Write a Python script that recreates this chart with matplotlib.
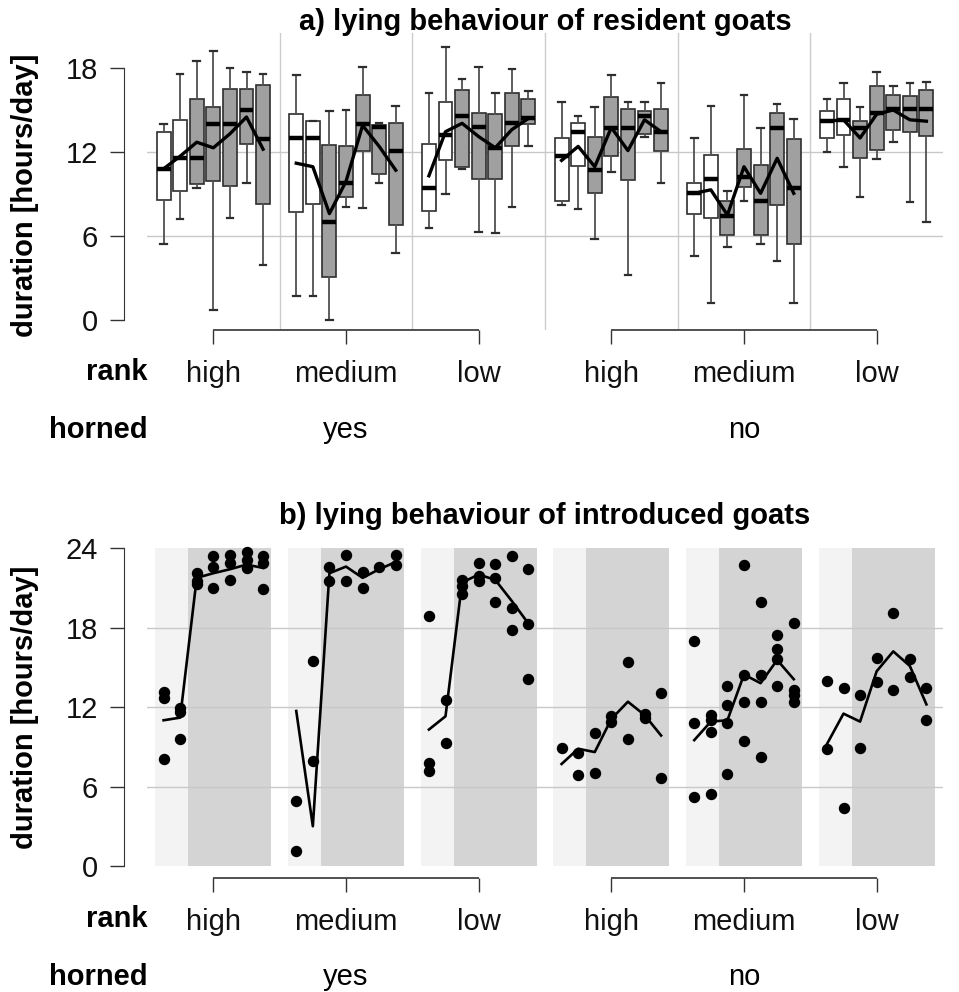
import matplotlib
matplotlib.use('Agg')
import matplotlib.pyplot as plt

plt.rcParams['font.family'] = ['Liberation Sans', 'DejaVu Sans']

# groups: horned x rank, 7 days each
ranks = ['high', 'medium', 'low', 'high', 'medium', 'low']
horned = ['yes', 'no']
n_days = 7
n_before = 2  # days before introduction (white boxes / light shading)

# a) resident goats: box statistics per group, days 1..7
res_lo = [[5.45, 7.2, 9.4, 0.7, 7.3, 9.8, 3.9],
          [1.7, 1.7, 0.0, 8.05, 8.0, 9.8, 4.8],
          [6.6, 9.0, 10.8, 6.3, 6.25, 8.1, 12.4],
          [8.2, 7.9, 5.8, 10.6, 3.2, 13.1, 9.8],
          [4.6, 1.25, 5.25, 8.5, 5.4, 4.2, 1.2],
          [12.0, 10.9, 8.8, 11.5, 12.75, 8.4, 7.0]]
res_q1 = [[8.55, 9.2, 9.7, 9.9, 9.6, 12.6, 8.3],
          [7.7, 8.3, 3.1, 8.8, 12.1, 10.4, 6.8],
          [7.8, 11.4, 10.95, 10.05, 10.05, 12.4, 14.0],
          [8.5, 11.0, 9.05, 11.7, 10.0, 13.3, 12.1],
          [7.6, 7.3, 6.05, 9.5, 6.1, 8.2, 5.4],
          [13.0, 13.25, 11.55, 12.15, 13.6, 13.4, 13.15]]
res_med = [[10.8, 11.6, 11.6, 14.0, 14.0, 15.0, 12.9],
           [13.0, 13.0, 7.0, 9.8, 14.0, 13.8, 12.1],
           [9.4, 13.2, 14.6, 13.8, 12.3, 14.1, 14.45],
           [11.7, 13.4, 10.7, 13.7, 13.7, 14.6, 13.45],
           [9.1, 10.05, 7.4, 10.25, 8.5, 13.75, 9.4],
           [14.2, 14.3, 13.75, 14.8, 15.1, 15.1, 15.1]]
res_q3 = [[13.4, 14.3, 15.8, 15.2, 16.5, 16.5, 16.8],
          [14.7, 14.2, 12.5, 12.4, 16.1, 13.9, 14.1],
          [12.55, 15.6, 16.45, 14.8, 14.7, 16.2, 15.8],
          [13.0, 14.1, 13.1, 15.9, 15.1, 14.9, 15.05],
          [9.8, 11.8, 8.5, 12.2, 11.1, 14.8, 12.9],
          [14.9, 15.8, 14.2, 16.7, 16.1, 16.0, 16.4]]
res_hi = [[14.0, 17.6, 18.5, 19.2, 18.0, 17.7, 17.6],
          [17.5, 14.2, 14.9, 15.0, 18.1, 14.1, 15.3],
          [16.2, 19.5, 17.2, 18.05, 16.2, 17.9, 16.35],
          [15.6, 14.6, 15.2, 17.5, 15.6, 15.6, 16.9],
          [13.0, 15.3, 9.2, 16.1, 13.75, 15.4, 14.35],
          [15.8, 16.9, 15.2, 17.75, 16.75, 16.9, 17.0]]
res_mean = [[10.8, 11.7, 12.7, 12.3, 13.3, 14.5, 12.2],
            [11.2, 10.95, 7.6, 9.9, 13.9, 12.4, 10.7],
            [10.3, 13.45, 14.05, 13.1, 12.3, 13.6, 14.4],
            [11.4, 12.4, 10.95, 13.75, 12.1, 14.3, 13.45],
            [9.05, 9.3, 7.5, 10.95, 9.05, 11.55, 9.05],
            [14.2, 14.3, 13.0, 14.7, 15.0, 14.3, 14.2]]

# b) introduced goats: single values per day and mean line
intro_pts = [
    [[13.1, 12.7, 8.1], [11.9, 11.6, 9.55], [22.1, 21.5, 21.25], [23.4, 22.6, 21.0],
     [23.5, 22.9, 21.6], [23.7, 23.1, 22.5], [23.4, 22.9, 20.9]],
    [[4.9, 1.1], [15.5, 7.9], [22.55, 21.5], [23.5, 21.55],
     [22.2, 21.0], [22.55], [23.5, 22.75]],
    [[18.9, 7.8, 7.2], [12.5, 9.3], [21.6, 21.1, 20.5], [22.9, 21.9, 21.5],
     [22.8, 21.75, 19.9], [23.4, 19.45, 17.8], [22.4, 18.3, 14.15]],
    [[8.9], [8.5, 6.9], [10.05, 7.05], [11.35, 10.85],
     [15.4, 9.55], [11.5, 11.2], [13.05, 6.65]],
    [[17.0, 10.8, 5.2], [11.4, 11.0, 10.1, 5.45], [13.6, 12.15, 10.8, 6.95],
     [22.7, 14.4, 12.35, 9.4], [19.9, 14.45, 12.4, 8.2], [17.4, 16.4, 15.6, 13.6],
     [18.35, 13.3, 12.9, 12.4]],
    [[14.0, 8.85], [13.4, 4.4], [12.9, 8.9], [15.7, 13.9],
     [19.1, 13.3], [15.6, 14.3], [13.4, 11.0]],
]
intro_mean = [[11.0, 11.2, 21.75, 22.1, 22.4, 22.75, 22.5],
              [11.7, 3.0, 22.1, 22.6, 21.75, 22.4, 22.95],
              [10.3, 11.3, 21.4, 22.0, 21.6, 20.0, 18.3],
              [7.7, 8.85, 8.6, 11.1, 12.4, 11.4, 9.85],
              [9.5, 10.9, 11.0, 14.45, 13.8, 15.55, 14.1],
              [9.2, 11.5, 10.9, 14.7, 16.2, 15.1, 12.2]]

W, H = 959, 992
FS = 21
step = n_days + 1
centers = [step * g + step / 2 for g in range(len(ranks))]

fig = plt.figure(figsize=(W / 100, H / 100), dpi=100)
ax1 = fig.add_axes([147 / W, 1 - 330 / H, 796 / W, 297 / H])
ax2 = fig.add_axes([147 / W, 1 - 878 / H, 796 / W, 333 / H])


def style_axes(ax, yticks, grid, horned_y):
    for s in ['top', 'right', 'bottom']:
        ax.spines[s].set_visible(False)
    ax.spines['left'].set_position(('outward', 16.5))
    ax.spines['left'].set_bounds(yticks[0], yticks[-1])
    ax.spines['left'].set_color('#333333')
    ax.set_yticks(yticks)
    ax.set_xlim(0, step * len(ranks))
    ax.set_xticks(centers)
    ax.set_xticklabels(ranks)
    ax.tick_params(axis='both', length=10, width=1, color='#333333',
                   labelsize=FS, labelcolor='#111111')
    ax.tick_params(axis='y', pad=9)
    ax.tick_params(axis='x', pad=11.5)
    for gy in grid:
        ax.axhline(gy, color='#c8c8c8', lw=1, zorder=0.8)
    # bracket lines for horned groups
    y0 = ax.get_ylim()[0]
    for h in range(len(horned)):
        a = centers[3 * h]
        b = centers[3 * h + 2]
        ax.plot([a, b], [y0, y0], color='#333333', lw=1.2, clip_on=False,
                solid_capstyle='butt')
        ax.annotate(horned[h], xy=((a + b) / 2, 1 - horned_y / H),
                    xycoords=('data', 'figure fraction'), ha='center',
                    va='center', fontsize=FS, annotation_clip=False)


# ---- panel a
ax1.set_ylim(-0.714, 20.5)
for g in range(len(ranks)):
    stats = []
    pos = []
    for d in range(n_days):
        stats.append(dict(med=res_med[g][d], q1=res_q1[g][d], q3=res_q3[g][d],
                          whislo=res_lo[g][d], whishi=res_hi[g][d]))
        pos.append(step * g + d + 1)
    bp = ax1.bxp(stats, positions=pos, widths=0.84, patch_artist=True,
                 showfliers=False, capwidths=0.4, manage_ticks=False,
                 boxprops=dict(edgecolor='#2e2e2e', lw=1.2),
                 whiskerprops=dict(color='#505050', lw=1.3),
                 capprops=dict(color='#2e2e2e', lw=1.6),
                 medianprops=dict(color='black', lw=3.2, solid_capstyle='butt'))
    for d, box in enumerate(bp['boxes']):
        box.set_facecolor('white' if d < n_before else '#a0a0a0')
    ax1.plot(pos, res_mean[g], color='black', lw=2.4, zorder=5)
for g in range(1, len(ranks)):
    ax1.axvline(step * g, color='#cccccc', lw=1, zorder=0.5)
style_axes(ax1, [0, 6, 12, 18], [6, 12], 430)

# ---- panel b
ax2.set_ylim(-0.906, 24.23)
for g in range(len(ranks)):
    base = step * g
    ax2.fill_between([base + 0.5, base + n_before + 0.5], 0, 24, color='#f3f3f3', lw=0, zorder=0)
    ax2.fill_between([base + n_before + 0.5, base + n_days + 0.5], 0, 24, color='#d4d4d4', lw=0, zorder=0)
    pos = [base + d + 1 for d in range(n_days)]
    for d in range(n_days):
        vals = intro_pts[g][d]
        ax2.plot([pos[d]] * len(vals), vals, 'o', color='black', ms=7.2, zorder=4)
    ax2.plot(pos, intro_mean[g], color='black', lw=1.9, zorder=5)
style_axes(ax2, [0, 6, 12, 18, 24], [6, 12, 18], 977)

for yr, yh in [(372, 430), (919, 977)]:
    fig.text(148 / W, 1 - yr / H, 'rank', ha='right', va='center', fontsize=FS, weight='bold')
    fig.text(148 / W, 1 - yh / H, 'horned', ha='right', va='center', fontsize=FS, weight='bold')

fig.text(25 / W, 1 - 195 / H, 'duration [hours/day]', rotation=90, ha='center', va='center',
         fontsize=FS, weight='bold')
fig.text(25 / W, 1 - 707 / H, 'duration [hours/day]', rotation=90, ha='center', va='center',
         fontsize=FS, weight='bold')
fig.text(545 / W, 1 - 22 / H, 'a) lying behaviour of resident goats', ha='center', va='center',
         fontsize=FS, weight='bold')
fig.text(545 / W, 1 - 516 / H, 'b) lying behaviour of introduced goats', ha='center', va='center',
         fontsize=FS, weight='bold')

fig.savefig('out.png', dpi=100)
